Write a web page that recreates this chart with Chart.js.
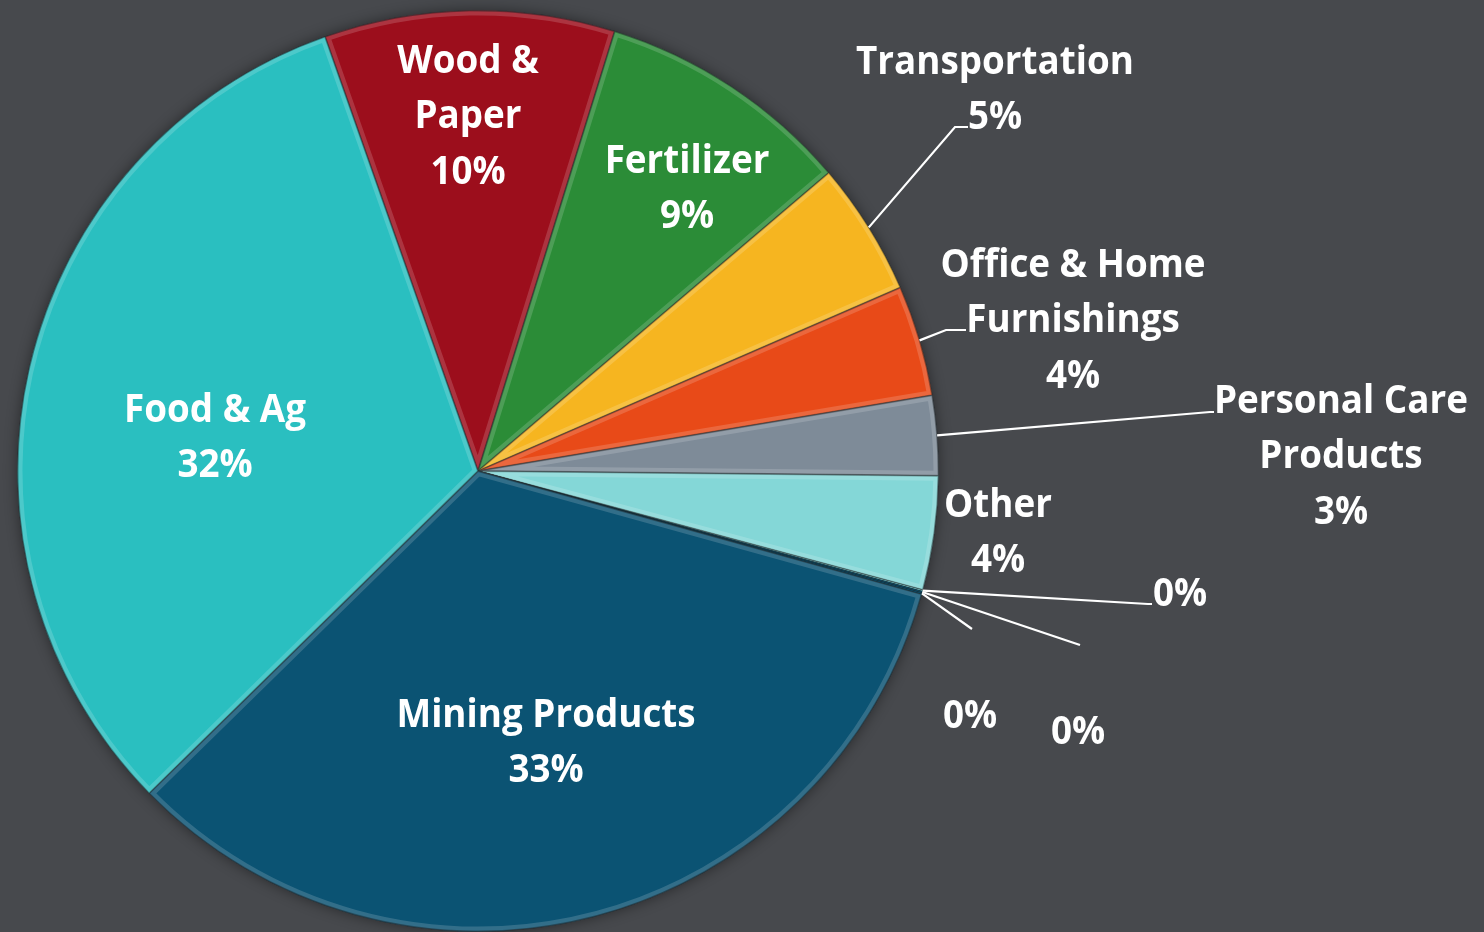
<!DOCTYPE html>
<html>
<head>
<meta charset="utf-8">
<script src="https://cdn.jsdelivr.net/npm/chart.js@4.4.1/dist/chart.umd.min.js"></script>
<style>
  html, body { margin: 0; padding: 0; background: #47494d; overflow: hidden; }
</style>
</head>
<body>
<canvas id="pie" width="1484" height="932"></canvas>
<script>
// slices clockwise, starting at the top-left edge of Wood & Paper
const categories = ['Wood & Paper', 'Fertilizer', 'Transportation', 'Office & Home Furnishings',
    'Personal Care Products', 'Other', '', '', '', 'Mining Products', 'Food & Ag']
const nameLines = [['Wood &', 'Paper'], ['Fertilizer'], ['Transportation'], ['Office & Home', 'Furnishings'],
    ['Personal Care', 'Products'], ['Other'], [], [], [], ['Mining Products'], ['Food & Ag']]
const shares = [10.2, 9.0, 4.7, 3.9, 2.8, 4.0, 0.05, 0.05, 0.05, 33.4, 32.0]
const colors = ['#9c0e1c', '#2b8c37', '#f6b520', '#e84a18', '#7e8b98', '#84d7d7',
    '#84d7d7', '#0c5676', '#0c5676', '#0b5373', '#2abfc0']

// label placement, px from pie centre (text block centre), and leader line bends
const labelAt = [[-10, -354], [209, -282], [517, -381], [595, -150], [863, -14], [520, 62],
    [702, 124], [600, 262], [492, 246], [68, 272], [-263, -33]]
const leaderTo = [null, null, [[477, -344], [490, -344]], [[468, -141], [488, -141]], [[732, -59], [736, -59]], null,
    [[670, 133], [674, 133]], [[602, 174]], [[494, 158]], null, null]

const FONT = 'bold 40px "Open Sans"'
const SQUEEZE = 0.92 // narrower, like the original calibri
const LINE_H = 55.5

const total = shares.reduce((a, b) => a + b, 0)
const pct = v => `${Math.round(v / total * 100)}%`

const bevel = {
    id: 'bevel',
    beforeDatasetsDraw(chart) {
        const arc = chart.getDatasetMeta(0).data[0]
        if (!arc) return
        const ctx = chart.ctx
        ctx.save()
        ctx.shadowColor = 'rgba(0,0,0,0.45)'
        ctx.shadowBlur = 14
        ctx.beginPath()
        ctx.arc(arc.x, arc.y, arc.outerRadius, 0, Math.PI * 2)
        ctx.fillStyle = '#3a3b3f'
        ctx.fill()
        ctx.restore()
    },
    afterDatasetsDraw(chart) {
        const ctx = chart.ctx
        chart.getDatasetMeta(0).data.forEach(el => {
            const {x, y, startAngle, endAngle, outerRadius} = el
            if (endAngle - startAngle < 0.01) return
            ctx.save()
            ctx.beginPath()
            ctx.moveTo(x, y)
            ctx.arc(x, y, outerRadius, startAngle, endAngle)
            ctx.closePath()
            ctx.clip()
            ctx.lineJoin = 'round'
            ctx.lineWidth = 10
            ctx.strokeStyle = 'rgba(255,255,255,0.16)'
            ctx.stroke()
            ctx.lineWidth = 2
            ctx.strokeStyle = 'rgba(0,0,0,0.25)'
            ctx.stroke()
            ctx.restore()
        })
    }
}

const sliceLabels = {
    id: 'sliceLabels',
    afterDraw(chart) {
        const ctx = chart.ctx
        const arcs = chart.getDatasetMeta(0).data
        ctx.save()
        ctx.fillStyle = '#ffffff'
        ctx.strokeStyle = '#ffffff'
        ctx.font = FONT
        ctx.textAlign = 'center'
        ctx.textBaseline = 'middle'
        arcs.forEach((el, i) => {
            const cx = el.x, cy = el.y
            if (leaderTo[i]) {
                const mid = (el.startAngle + el.endAngle) / 2
                ctx.beginPath()
                ctx.lineWidth = 2.2
                ctx.moveTo(cx + Math.cos(mid) * el.outerRadius, cy + Math.sin(mid) * el.outerRadius)
                for (const p of leaderTo[i]) ctx.lineTo(cx + p[0], cy + p[1])
                ctx.stroke()
            }
            const lines = [...nameLines[i], pct(shares[i])]
            const lx = cx + labelAt[i][0]
            const ly = cy + labelAt[i][1]
            lines.forEach((t, k) => {
                ctx.save()
                ctx.translate(lx, ly + (k - (lines.length - 1) / 2) * LINE_H)
                ctx.scale(SQUEEZE, 1)
                ctx.fillText(t, 0, 0)
                ctx.restore()
            })
        })
        ctx.restore()
    }
}

new Chart(document.getElementById('pie'), {
    type: 'pie',
    data: {
        labels: categories,
        datasets: [{
            data: shares,
            backgroundColor: colors,
            borderColor: 'rgba(20,30,35,0.45)',
            borderWidth: 1
        }]
    },
    options: {
        responsive: false,
        animation: false,
        rotation: -19.4,
        layout: {padding: {left: 16, right: 544, top: 10, bottom: 0}},
        plugins: {
            legend: {display: false},
            tooltip: {enabled: false}
        }
    },
    plugins: [bevel, sliceLabels]
})
</script>
</body>
</html>
